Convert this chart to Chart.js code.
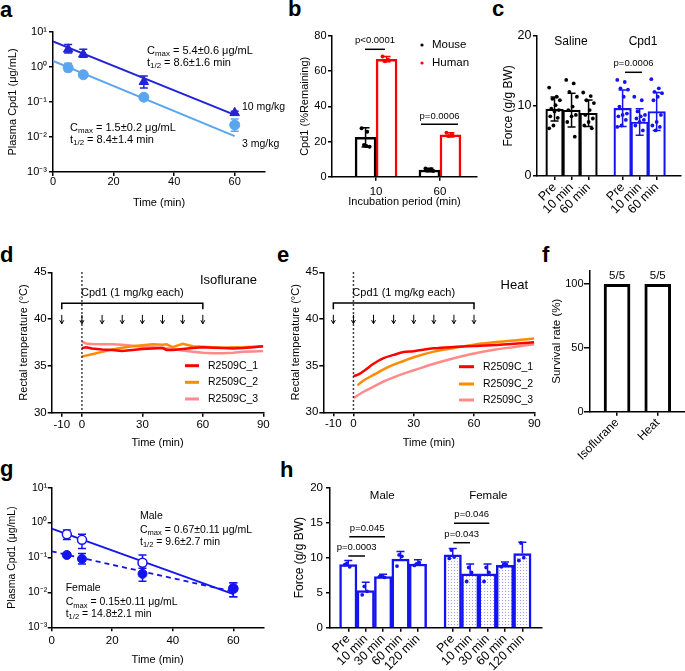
<!DOCTYPE html>
<html><head><meta charset="utf-8">
<script src="https://cdn.jsdelivr.net/npm/chart.js@4.4.1/dist/chart.umd.min.js"></script>
<style>
html,body{margin:0;padding:0;background:#fff}
body{position:relative;width:685px;height:671px;overflow:hidden}
canvas{position:absolute}
.pl{position:absolute;font:bold 22px 'Liberation Sans',Arial,sans-serif;line-height:22px;color:#000}
</style></head><body>
<div class="pl" style="left:0px;top:-0.6px">a</div>
<div class="pl" style="left:288px;top:-1.6px">b</div>
<div class="pl" style="left:492px;top:-1.6px">c</div>
<div class="pl" style="left:0px;top:244.4px">d</div>
<div class="pl" style="left:277px;top:244.4px">e</div>
<div class="pl" style="left:542px;top:244.4px">f</div>
<div class="pl" style="left:0px;top:458.4px">g</div>
<div class="pl" style="left:280px;top:459.4px">h</div>
<script>
// ================= DATA =================
// a: plasma PK
const aTimes = [5, 10, 30, 60];
const a10Mean = [3.2, 2.3, 0.38, 0.049];
const a10Low  = [2.5, 1.9, 0.25, 0.044];
const a10High = [4.4, 3.2, 0.55, 0.054];
const a3Mean  = [0.95, 0.60, 0.137, 0.022];
const a3Low   = [0.74, 0.54, 0.128, 0.0146];
const a3High  = [1.27, 0.67, 0.147, 0.0325];
const aFitTimes = [0, 60];
const a10Fit = [5.4, 0.043];
const a3Fit  = [1.5, 0.0106];
const logTicks = [0.001, 0.01, 0.1, 1, 10];
const logLabels = ['10⁻³', '10⁻²', '10⁻¹', '10⁰', '10¹'];

// b: stability
const bCats = ['10', '60'];
const bMouse = [22.4, 3.8];
const bMouseSD = [5.5, 1.0];
const bHuman = [66.8, 23.8];
const bHumanSD = [1.5, 1.2];
const bMouseDots = [[27.5, 25.5, 18, 17, 17.5], [4.6, 4.3, 3.6, 3.2, 3.9]];
const bHumanDots = [[68.3, 66.5, 65.6], [25.0, 24.0, 23.2]];

// c: grip force
const cCats = ['Pre', '10 min', '60 min'];
const cSaline = [9.55, 9.4, 8.95];
const cSalineSD = [1.7, 2.4, 1.9];
const cCpd1 = [9.65, 7.7, 9.2];
const cCpd1SD = [2.6, 1.9, 2.7];
const cSalineDots = [
  [12.6, 11.3, 11.0, 10.8, 10.1, 9.6, 9.4, 9.2, 8.5, 8.3, 7.2, 6.8],
  [13.7, 13.2, 12.0, 11.3, 9.9, 9.4, 8.7, 8.5, 7.7, 5.6],
  [11.9, 11.4, 10.8, 10.4, 9.4, 8.7, 8.2, 7.7, 7.2, 6.8]];
const cCpd1Dots = [
  [13.7, 13.4, 12.5, 12.3, 11.3, 9.9, 8.9, 8.7, 8.5, 8.0, 7.2, 7.0],
  [11.3, 10.8, 9.2, 8.7, 8.5, 8.2, 8.0, 7.7, 7.2, 6.5],
  [13.8, 12.5, 12.0, 11.8, 11.3, 10.8, 8.7, 7.7, 7.2, 7.0, 6.5]];

// d, e: rectal temperature
const seriesNames = ['R2509C_1', 'R2509C_2', 'R2509C_3'];
const doseTimes = [-10, 0, 10, 20, 30, 40, 50, 60];
const dTime = [0, 2, 5, 10, 15, 20, 25, 30, 35, 40, 42, 45, 50, 55, 60, 65, 70, 75, 80, 85, 90];
const dR1 = [36.9, 37.0, 36.85, 36.75, 36.7, 36.6, 36.7, 36.8, 36.85, 36.9, 36.7, 36.7, 36.8, 36.9, 37.0, 36.95, 36.9, 36.85, 36.9, 37.0, 37.1];
const dR2 = [36.0, 36.1, 36.25, 36.5, 36.75, 36.95, 37.1, 37.2, 37.3, 37.25, 37.3, 37.0, 37.35, 37.1, 37.05, 37.0, 36.95, 37.0, 37.0, 37.05, 37.1];
const dR3 = [37.6, 37.4, 37.35, 37.3, 37.3, 37.25, 37.15, 37.05, 37.0, 36.95, 36.9, 36.8, 36.65, 36.5, 36.4, 36.35, 36.35, 36.4, 36.5, 36.55, 36.6];
const eTime = [0, 2, 5, 10, 15, 20, 25, 30, 40, 50, 60, 70, 80, 90];
const eR1 = [33.9, 34.0, 34.4, 35.2, 35.8, 36.15, 36.45, 36.55, 36.85, 37.0, 37.1, 37.2, 37.35, 37.5];
const eR2 = [null, 32.9, 33.4, 34.0, 34.6, 35.1, 35.5, 35.9, 36.5, 36.9, 37.25, 37.5, 37.7, 37.9];
const eR3 = [31.5, 31.8, 32.2, 32.75, 33.3, 33.75, 34.15, 34.5, 35.2, 35.8, 36.3, 36.7, 37.0, 37.3];

// f: survival
const fCats = ['Isoflurane', 'Heat'];
const fSurv = [100, 100];
const fCounts = ['5/5', '5/5'];

// g: PK by sex
const gTimes = [5, 10, 30, 60];
const gMale = [0.46, 0.32, 0.071, 0.013];
const gMaleLow = [0.33, 0.18, 0.035, 0.0075];
const gMaleHigh = [0.61, 0.46, 0.118, 0.019];
const gFemale = [0.118, 0.091, 0.034, 0.013];
const gFemaleLow = [0.106, 0.065, 0.021, 0.0075];
const gFemaleHigh = [0.131, 0.13, 0.049, 0.019];
const gFitTimes = [0, 60];
const gMaleFit = [0.67, 0.0089];
const gFemaleFit = [0.15, 0.0105];

// h: grip force by sex
const hCats = ['Pre', '10 min', '30 min', '60 min', '120 min'];
const hMale = [9.0, 5.3, 7.3, 9.8, 9.1];
const hMaleSD = [0.6, 1.2, 0.35, 1.1, 0.6];
const hFemale = [10.4, 7.7, 7.7, 8.9, 10.6];
const hFemaleSD = [0.9, 1.4, 1.4, 0.5, 1.6];
const hMaleDots = [[9.0, 8.7, 9.2], [4.7, 5.2, 5.9], [7.3, 7.2, 7.4], [8.8, 10.2, 10.4], [8.9, 9.3, 9.1]];
const hFemaleDots = [[9.9, 10.1, 11.1], [6.6, 7.9, 8.6], [6.6, 7.9, 8.6], [8.7, 9.0, 9.0], [9.6, 10.0, 12.1]];

// ================= STYLE / HELPERS =================
const FONT = "'Liberation Sans', Arial, Helvetica, sans-serif";
Chart.defaults.font.family = FONT;
Chart.defaults.color = '#000';
const C_DARK = 'rgb(35,35,215)', C_LIGHT = 'rgb(90,165,240)', C_BLUE = 'rgb(20,20,240)';
const C_RED = '#ff0000', C_ORG = '#ff8c00', C_PINK = '#ff8a8a';
const lineColors = [C_RED, C_ORG, C_PINK];

const errPlugin = {
  id: 'errbars',
  beforeDatasetDraw(chart, args) { const ds = chart.data.datasets[args.index]; if (ds.errLow && ds.errWhen === 'before') drawErr(chart, args.meta, ds); },
  afterDatasetDraw(chart, args) { const ds = chart.data.datasets[args.index]; if (ds.errLow && ds.errWhen !== 'before') drawErr(chart, args.meta, ds); }
};
function drawErr(chart, meta, ds) {
  const ctx = chart.ctx, ys = chart.scales.y;
  ctx.save(); ctx.strokeStyle = ds.errColor; ctx.lineWidth = ds.errWidth || 1.5;
  meta.data.forEach((el, i) => {
    const lo = ds.errLow[i], hi = ds.errHigh[i];
    if (lo == null || hi == null) return;
    const x = el.x, y1 = ys.getPixelForValue(lo), y2 = ys.getPixelForValue(hi), c = ds.capW || 4;
    ctx.beginPath(); ctx.moveTo(x, y1); ctx.lineTo(x, y2);
    ctx.moveTo(x - c, y2); ctx.lineTo(x + c, y2);
    if (ds.lowCap !== false) { ctx.moveTo(x - c, y1); ctx.lineTo(x + c, y1); }
    ctx.stroke();
  });
  ctx.restore();
}
Chart.register(errPlugin);

function tools(ctx, box) {
  const F = s => s + 'px ' + FONT;
  const T = {
    textC(s, x, y, size, align = 'left', color = '#000') {
      ctx.save(); ctx.font = F(size); ctx.fillStyle = color; ctx.textAlign = align; ctx.textBaseline = 'middle';
      ctx.fillText(s, x, y); ctx.restore();
    },
    text(s, X, Y, size, align = 'left', color = '#000') { T.textC(s, X - box.x, Y - box.y, size, align, color); },
    rich(parts, X, Y, size) {
      ctx.save(); ctx.textBaseline = 'middle'; ctx.fillStyle = '#000'; ctx.textAlign = 'left';
      let cx = X - box.x; const cy = Y - box.y;
      for (const [t, sub] of parts) {
        const sz = sub ? size * 0.72 : size;
        ctx.font = F(sz);
        ctx.fillText(t, cx, sub ? cy + size * 0.3 : cy);
        cx += ctx.measureText(t).width;
      }
      ctx.restore();
    },
    lineC(pts, w = 1.5, color = '#000', dash = null) {
      ctx.save(); ctx.beginPath(); ctx.lineWidth = w; ctx.strokeStyle = color; if (dash) ctx.setLineDash(dash);
      pts.forEach(([x, y], i) => i ? ctx.lineTo(x, y) : ctx.moveTo(x, y)); ctx.stroke(); ctx.restore();
    },
    line(pts, w, color, dash) { T.lineC(pts.map(([x, y]) => [x - box.x, y - box.y]), w, color, dash); },
    dot(X, Y, r, color) { ctx.save(); ctx.fillStyle = color; ctx.beginPath(); ctx.arc(X - box.x, Y - box.y, r, 0, Math.PI * 2); ctx.fill(); ctx.restore(); },
    sig(label, X1, X2, LY, TY, size = 9.5) { T.line([[X1, LY], [X2, LY]], 1.5); T.text(label, (X1 + X2) / 2, TY, size, 'center'); }
  };
  return T;
}

function mkScale(o) {
  const s = {
    type: o.type || 'linear', min: o.min, max: o.max, offset: false,
    border: { display: true, color: '#000', width: 1.5 },
    grid: { display: true, drawOnChartArea: false, drawTicks: true, tickLength: o.tl || 4, color: '#000', lineWidth: 1.5, offset: false },
    ticks: { color: '#000', font: { size: o.fs || 11 }, padding: (o.pad === undefined ? 2 : o.pad), autoSkip: false, maxRotation: o.rot || 0, minRotation: o.rot || 0 },
    afterBuildTicks: sc => { sc.ticks = o.ticks.map(v => ({ value: v })); },
    title: { display: false }
  };
  if (o.labels) s.ticks.callback = (v, i) => o.labels[i];
  if (o.title) s.title = { display: true, text: o.title, color: '#000', font: { size: o.tfs || 11 } };
  return s;
}

function panel(box, plot, xo, yo, type, datasets, extras) {
  const cv = document.createElement('canvas');
  cv.width = box.w; cv.height = box.h;
  cv.style.left = box.x + 'px'; cv.style.top = box.y + 'px';
  cv.style.width = box.w + 'px'; cv.style.height = box.h + 'px';
  document.body.appendChild(cv);
  const xs = mkScale(xo), ys = mkScale(yo);
  xs.afterFit = s => { s.height = box.y + box.h - plot.b; };
  ys.afterFit = s => { s.width = plot.l - box.x; };
  if (yo.title) { const lh = 1.2 * (yo.tfs || 11); ys.title.padding = { top: yo.tc - box.x - lh / 2, bottom: 0 }; }
  if (xo.title) { const lh = 1.2 * (xo.tfs || 11); xs.title.padding = { top: 0, bottom: box.y + box.h - xo.tc - lh / 2 }; }
  return new Chart(cv.getContext('2d'), {
    type, data: { datasets },
    options: {
      responsive: false, maintainAspectRatio: false, animation: false, devicePixelRatio: 1,
      layout: { padding: { left: 0, top: plot.t - box.y, right: box.x + box.w - plot.r, bottom: 0 } },
      scales: { x: xs, y: ys },
      plugins: { legend: { display: false }, tooltip: { enabled: false } }
    },
    plugins: [{ id: 'extras', afterDraw(chart) { if (extras) extras(chart, tools(chart.ctx, box)); } }]
  });
}
const pts = (xs, ys) => xs.map((x, i) => ({ x, y: ys[i] })).filter(p => p.y != null);
const jit = (j, spread) => (((j * 7) % 11) - 5) / 5 * spread;

// ================= PANEL a =================
panel({ x: 0, y: 0, w: 300, h: 215 }, { l: 53, t: 32, r: 265, b: 172 },
  { min: 0, max: 70, ticks: [0, 20, 40, 60], title: 'Time (min)', tc: 203, pad: -1 },
  { type: 'logarithmic', min: 0.001, max: 10, ticks: logTicks, labels: logLabels, title: 'Plasma Cpd1 (μg/mL)', tc: 12.5, pad: 2 },
  'line', [
    { label: '10 mg/kg', data: pts(aTimes, a10Mean), showLine: false, pointStyle: 'triangle', pointRadius: 5.5, pointBackgroundColor: C_DARK, pointBorderColor: C_DARK, errLow: a10Low, errHigh: a10High, errColor: C_DARK, errWhen: 'before', order: 0 },
    { label: '3 mg/kg', data: pts(aTimes, a3Mean), showLine: false, pointStyle: 'circle', pointRadius: 5, pointBackgroundColor: C_LIGHT, pointBorderColor: C_LIGHT, errLow: a3Low, errHigh: a3High, errColor: C_LIGHT, errWhen: 'before', order: 0 },
    { label: '10 mg/kg fit', data: pts(aFitTimes, a10Fit), borderColor: C_DARK, borderWidth: 2, pointRadius: 0, order: 1 },
    { label: '3 mg/kg fit', data: pts(aFitTimes, a3Fit), borderColor: C_LIGHT, borderWidth: 2, pointRadius: 0, order: 1 }
  ], (chart, T) => {
    T.rich([['C'], ['max', 1], [' = 5.4±0.6 μg/mL']], 147, 51, 11);
    T.rich([['t'], ['1/2', 1], [' = 8.6±1.6 min']], 147, 63, 11);
    T.rich([['C'], ['max', 1], [' = 1.5±0.2 μg/mL']], 70, 128, 11);
    T.rich([['t'], ['1/2', 1], [' = 8.4±1.4 min']], 70, 140, 11);
    T.text('10 mg/kg', 242, 107.5, 10.5);
    T.text('3 mg/kg', 242, 144, 10.5);
  });

// ================= PANEL b =================
{
  const box = { x: 290, y: 0, w: 210, h: 215 }, plot = { l: 332, t: 36, r: 477, b: 176.7 };
  const xmin = 0.31, xmax = 2.58, bw = 21, ppu = (plot.r - plot.l) / (xmax - xmin), off = bw / 2 / ppu;
  const dots = (arr, sgn) => arr.flatMap((g, gi) => g.map((v, j) => ({ x: gi + 1 + sgn * off + jit(j, 4) / ppu, y: v })));
  panel(box, plot,
    { min: xmin, max: xmax, ticks: [1, 2], labels: bCats, title: 'Incubation period (min)', tc: 202, pad: 4.5, fs: 11.5 },
    { min: 0, max: 80, ticks: [0, 20, 40, 60, 80], title: 'Cpd1 (%Remaining)', tc: 305, pad: 1.5, fs: 11 },
    'bar', [
      { type: 'bar', label: 'Mouse', data: pts([1, 2], bMouse), barThickness: bw, backgroundColor: '#fff', borderColor: '#000', borderWidth: 2.5,
        errLow: bMouse.map((v, i) => v - bMouseSD[i]), errHigh: bMouse.map((v, i) => v + bMouseSD[i]), errColor: '#000', order: 2 },
      { type: 'bar', label: 'Human', data: pts([1, 2], bHuman), barThickness: bw, backgroundColor: '#fff', borderColor: C_RED, borderWidth: 2.5,
        errLow: bHuman.map((v, i) => v - bHumanSD[i]), errHigh: bHuman.map((v, i) => v + bHumanSD[i]), errColor: C_RED, order: 2 },
      { type: 'scatter', label: 'Mouse points', data: dots(bMouseDots, -1), pointRadius: 2, pointBackgroundColor: '#000', pointBorderWidth: 0, order: 0 },
      { type: 'scatter', label: 'Human points', data: dots(bHumanDots, 1), pointRadius: 2, pointBackgroundColor: C_RED, pointBorderWidth: 0, order: 0 }
    ], (chart, T) => {
      T.sig('p<0.0001', 365, 385, 49.3, 40.5);
      T.sig('p=0.0006', 421, 458, 124.3, 116.7);
      T.dot(422, 45, 1.6, '#000'); T.text('Mouse', 432, 45, 11.5);
      T.dot(422, 63, 1.6, C_RED); T.text('Human', 432, 63, 11.5);
    });
}

// ================= PANEL c =================
{
  const box = { x: 490, y: 0, w: 195, h: 222 }, plot = { l: 537, t: 35.7, r: 685, b: 176 };
  const xmin = -1.03, xmax = 7.43, ppu = (plot.r - plot.l) / (xmax - xmin);
  const salPos = [0, 1, 2], cpdPos = [4, 5, 6];
  const dots = (arr, pos) => arr.flatMap((g, gi) => g.map((v, j) => ({ x: pos[gi] + jit(j, 5.5) / ppu, y: v })));
  panel(box, plot,
    { min: xmin, max: xmax, ticks: [...salPos, ...cpdPos], labels: [...cCats, ...cCats], rot: 45, pad: 0, fs: 12.5 },
    { min: 0, max: 20, ticks: [0, 10, 20], title: 'Force (g/g BW)', tfs: 12, tc: 509, pad: 1.5, fs: 12.5 },
    'bar', [
      { type: 'bar', label: 'Saline', data: pts(salPos, cSaline), grouped: false, barThickness: 17.5, backgroundColor: '#fff', borderColor: '#000', borderWidth: 2.2,
        errLow: cSaline.map((v, i) => v - cSalineSD[i]), errHigh: cSaline.map((v, i) => v + cSalineSD[i]), errColor: '#000', capW: 4, order: 2 },
      { type: 'bar', label: 'Cpd1', data: pts(cpdPos, cCpd1), grouped: false, barThickness: 17.5, backgroundColor: '#fff', borderColor: C_BLUE, borderWidth: 2.2,
        errLow: cCpd1.map((v, i) => v - cCpd1SD[i]), errHigh: cCpd1.map((v, i) => v + cCpd1SD[i]), errColor: C_BLUE, capW: 4, order: 2 },
      { type: 'scatter', label: 'Saline points', data: dots(cSalineDots, salPos), pointRadius: 1.9, pointBackgroundColor: '#000', pointBorderWidth: 0, order: 0 },
      { type: 'scatter', label: 'Cpd1 points', data: dots(cCpd1Dots, cpdPos), pointRadius: 1.9, pointBackgroundColor: C_BLUE, pointBorderWidth: 0, order: 0 }
    ], (chart, T) => {
      T.text('Saline', 571, 41.7, 12, 'center');
      T.text('Cpd1', 643, 41.7, 12, 'center');
      T.sig('p=0.0006', 625, 642, 72.3, 63.3);
    });
}

// ================= PANELS d, e =================
function tempPanel(box, plot, ytc, series, times, tension, label, labelPos, legendPos) {
  panel(box, plot,
    { min: -15, max: 90, ticks: [-10, 0, 30, 60, 90], title: 'Time (min)', tc: 443, pad: 1, fs: 11.5 },
    { min: 30, max: 45, ticks: [30, 35, 40, 45], title: 'Rectal temperature (°C)', tc: ytc, pad: 1, fs: 11.5 },
    'line', series.map((s, i) => ({ label: seriesNames[i], data: pts(times, s), borderColor: lineColors[i], borderWidth: 2.5, pointRadius: 0, tension, cubicInterpolationMode: tension ? 'monotone' : 'default' })),
    (chart, T) => {
      const xs = chart.scales.x, ys = chart.scales.y;
      const x0 = xs.getPixelForValue(0);
      T.lineC([[x0, ys.getPixelForValue(45)], [x0, ys.getPixelForValue(30)]], 1.5, '#000', [1.5, 2.5]);
      const bx1 = xs.getPixelForValue(doseTimes[0]), bx2 = xs.getPixelForValue(doseTimes[doseTimes.length - 1]);
      const by = ys.getPixelForValue(41.7), byt = ys.getPixelForValue(41.05);
      T.lineC([[bx1, byt], [bx1, by], [bx2, by], [bx2, byt]], 1.5);
      T.textC('Cpd1 (1 mg/kg each)', (bx1 + bx2) / 2, ys.getPixelForValue(42.75), 11, 'center');
      doseTimes.forEach(t => {
        const x = xs.getPixelForValue(t), y1 = ys.getPixelForValue(40.45), y2 = ys.getPixelForValue(39.5);
        T.lineC([[x, y1], [x, y2]], 1);
        T.lineC([[x - 2, y2 - 3.5], [x, y2], [x + 2, y2 - 3.5]], 1);
      });
      T.text(label, labelPos[0], labelPos[1], 13, 'right');
      legendPos.ys.forEach((Y, i) => {
        T.line([[legendPos.x1, Y], [legendPos.x2, Y]], 3, lineColors[i]);
        T.text(seriesNames[i], legendPos.tx, Y, 10.5);
      });
    });
}
tempPanel({ x: 0, y: 225, w: 290, h: 230 }, { l: 51.7, t: 272.3, r: 263.3, b: 412.7 }, 24,
  [dR1, dR2, dR3], dTime, 0, 'Isoflurane', [257, 280], { x1: 185, x2: 199, tx: 208, ys: [365.7, 382.3, 399] });
tempPanel({ x: 285, y: 225, w: 260, h: 230 }, { l: 323.3, t: 272.3, r: 534.3, b: 412.3 }, 296,
  [eR1, eR2, eR3], eTime, 0.4, 'Heat', [528, 285], { x1: 459, x2: 474, tx: 483, ys: [366.7, 384, 400] });

// ================= PANEL f =================
panel({ x: 545, y: 225, w: 140, h: 250 }, { l: 590, t: 270.7, r: 685, b: 411.7 },
  { min: -0.665, max: 1.67, ticks: [0, 1], labels: fCats, rot: 45, pad: 0, fs: 12 },
  { min: 0, max: 110.6, ticks: [0, 50, 100], title: 'Survival rate (%)', tfs: 11.5, tc: 557, pad: 0.5, tl: 6, fs: 11 },
  'bar', [
    { label: 'Survival', data: pts([0, 1], fSurv), barThickness: 26, backgroundColor: '#fff', borderColor: '#000', borderWidth: 3 }
  ], (chart, T) => {
    const meta = chart.getDatasetMeta(0);
    meta.data.forEach((el, i) => T.textC(fCounts[i], el.x, el.y - 8.5, 11.5, 'center'));
  });

// ================= PANEL g =================
panel({ x: 0, y: 455, w: 290, h: 216 }, { l: 51.7, t: 487.7, r: 263.6, b: 627.3 },
  { min: 0, max: 70, ticks: [0, 20, 40, 60], title: 'Time (min)', tc: 660, pad: 3, fs: 11.5 },
  { type: 'logarithmic', min: 0.001, max: 10, ticks: logTicks, labels: logLabels, title: 'Plasma Cpd1 (μg/mL)', tfs: 10.5, tc: 12, pad: 0.5, fs: 10.5 },
  'line', [
    { label: 'Female', data: pts(gTimes, gFemale), showLine: false, pointRadius: 4.5, pointBackgroundColor: C_BLUE, pointBorderColor: C_BLUE, errLow: gFemaleLow, errHigh: gFemaleHigh, errColor: C_BLUE, errWhen: 'before', order: 0 },
    { label: 'Male', data: pts(gTimes, gMale), showLine: false, pointRadius: 4.5, pointBackgroundColor: '#fff', pointBorderColor: C_BLUE, pointBorderWidth: 1.5, errLow: gMaleLow, errHigh: gMaleHigh, errColor: C_BLUE, errWhen: 'before', order: 0 },
    { label: 'Male fit', data: pts(gFitTimes, gMaleFit), borderColor: C_BLUE, borderWidth: 1.8, pointRadius: 0, order: 1 },
    { label: 'Female fit', data: pts(gFitTimes, gFemaleFit), borderColor: C_BLUE, borderWidth: 1.8, borderDash: [5, 4], pointRadius: 0, order: 1 }
  ], (chart, T) => {
    T.text('Male', 140, 516, 10.5);
    T.rich([['C'], ['max', 1], [' = 0.67±0.11 μg/mL']], 140, 530, 10.5);
    T.rich([['t'], ['1/2', 1], [' = 9.6±2.7 min']], 140, 541.7, 10.5);
    T.text('Female', 65.7, 587.7, 10.5);
    T.rich([['C'], ['max', 1], [' = 0.15±0.11 μg/mL']], 65.7, 602.3, 10.5);
    T.rich([['t'], ['1/2', 1], [' = 14.8±2.1 min']], 65.7, 614, 10.5);
  });

// ================= PANEL h =================
{
  const box = { x: 285, y: 455, w: 400, h: 216 }, plot = { l: 330, t: 487.7, r: 541.7, b: 627.7 };
  const xmin = -1.05, xmax = 11.11, ppu = (plot.r - plot.l) / (xmax - xmin);
  const malePos = [0, 1, 2, 3, 4], femPos = [6, 7, 8, 9, 10];
  const dots = (arr, pos) => arr.flatMap((g, gi) => g.map((v, j) => ({ x: pos[gi] + jit(j, 3.5) / ppu, y: v })));
  const pc = document.createElement('canvas'); pc.width = 3; pc.height = 3;
  const px = pc.getContext('2d'); px.fillStyle = '#fff'; px.fillRect(0, 0, 3, 3); px.fillStyle = '#a0a0ff'; px.fillRect(1, 1, 1, 1);
  const pattern = px.createPattern(pc, 'repeat');
  panel(box, plot,
    { min: xmin, max: xmax, ticks: [...malePos, ...femPos], labels: [...hCats, ...hCats], rot: 45, pad: 0, fs: 12.5 },
    { min: 0, max: 20, ticks: [0, 5, 10, 15, 20], title: 'Force (g/g BW)', tfs: 12, tc: 300, pad: 3, fs: 11.5 },
    'bar', [
      { type: 'bar', label: 'Male', data: pts(malePos, hMale), grouped: false, barThickness: 17.4, backgroundColor: '#fff', borderColor: C_BLUE, borderWidth: 2.5,
        errLow: hMale, errHigh: hMale.map((v, i) => v + hMaleSD[i]), lowCap: false, errColor: C_BLUE, capW: 4, order: 2 },
      { type: 'bar', label: 'Female', data: pts(femPos, hFemale), grouped: false, barThickness: 17.4, backgroundColor: pattern, borderColor: C_BLUE, borderWidth: 2.5,
        errLow: hFemale, errHigh: hFemale.map((v, i) => v + hFemaleSD[i]), lowCap: false, errColor: C_BLUE, capW: 4, order: 2 },
      { type: 'scatter', label: 'Male points', data: dots(hMaleDots, malePos), pointRadius: 1.9, pointBackgroundColor: C_BLUE, pointBorderWidth: 0, order: 0 },
      { type: 'scatter', label: 'Female points', data: dots(hFemaleDots, femPos), pointRadius: 1.9, pointBackgroundColor: C_BLUE, pointBorderWidth: 0, order: 0 }
    ], (chart, T) => {
      T.text('Male', 382.3, 496, 11.5, 'center');
      T.text('Female', 488.3, 496, 11.5, 'center');
      T.sig('p=0.0003', 348.3, 365, 556, 547.3);
      T.sig('p=0.045', 349.3, 385, 536.7, 528.3);
      T.sig('p=0.043', 453.3, 470, 542.7, 534);
      T.sig('p=0.046', 454, 489.3, 523.3, 514);
    });
}
</script>
</body></html>
